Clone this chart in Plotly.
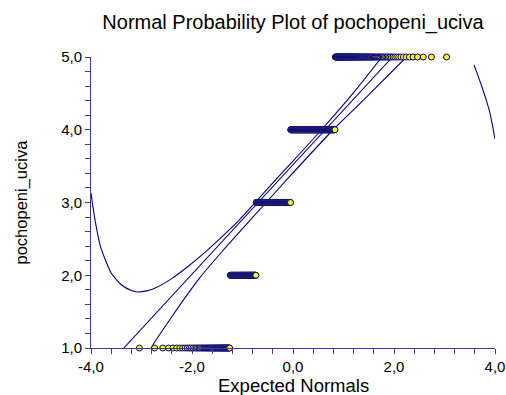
from statistics import NormalDist
import plotly.graph_objects as go

# ---- data ----
categories = [1, 2, 3, 4, 5]            # pochopeni_uciva values
counts = [56, 67, 132, 168, 107]         # observations per value

# fitted reference line (visible segment)
fit_x = [-3.35, 1.97]
fit_y = [1.00, 5.00]

# upper confidence band
upper_x = [-4.00, -3.93, -3.81, -3.60, -3.40, -3.20, -3.07, -2.90, -2.74,
           -2.41, -2.08, -1.75, -1.42, -1.09, -0.76, -0.36, 0.00, 0.565, 1.20, 1.76]
upper_y = [3.13, 2.80, 2.39, 2.03, 1.87, 1.79, 1.77, 1.785, 1.82,
           1.95, 2.12, 2.31, 2.52, 2.74, 2.99, 3.30, 3.57, 4.00, 4.51, 5.00]

# lower confidence band (None = hidden part above the plot)
lower_x = [-3.00, -2.81, -2.41, -1.84, -1.40, -0.70, -0.128, 0.795, 1.40, 2.25, 2.40,
           None, 3.585, 3.67, 3.76, 3.83, 3.90, 3.95, 4.00]
lower_y = [0.72, 1.00, 1.42, 1.97, 2.33, 2.87, 3.31, 4.00, 4.41, 5.00, 5.09,
           None, 4.89, 4.73, 4.55, 4.40, 4.23, 4.06, 3.87]

# axis ticks: labelled values and the step of the small ticks
x_labels = {-4: "-4,0", -2: "-2,0", 0: "0,0", 2: "2,0", 4: "4,0"}
y_labels = {1: "1,0", 2: "2,0", 3: "3,0", 4: "4,0", 5: "5,0"}
x_tick_step = 0.4
y_tick_step = 0.2


def tick_arrays(lo, hi, step, labels):
    k = round((hi - lo) / step)
    vals = [round(lo + i * step, 6) for i in range(k + 1)]
    text = [labels.get(round(v), "") if abs(v - round(v)) < 1e-6 else "" for v in vals]
    return vals, text


x_tickvals, x_ticktext = tick_arrays(-4, 4, x_tick_step, x_labels)
y_tickvals, y_ticktext = tick_arrays(1, 5, y_tick_step, y_labels)

# ---- expected normals (Blom scores) from the sorted observations ----
obs = []
for v, c in zip(categories, counts):
    obs += [v] * c
n = len(obs)
nd = NormalDist()
exp_norm = [nd.inv_cdf((i + 1 - 0.375) / (n + 0.25)) for i in range(n)]

NAVY = "#000080"
AXIS = "#3A3AA0"
FONT = "Liberation Sans, Arial, sans-serif"

fig = go.Figure()
line_style = dict(color=NAVY, width=1.1)
curve_style = dict(color=NAVY, width=1.1, shape="spline", smoothing=0.6)
fig.add_trace(go.Scatter(x=upper_x, y=upper_y, mode="lines", line=curve_style,
                         connectgaps=False, hoverinfo="skip"))
fig.add_trace(go.Scatter(x=fit_x, y=fit_y, mode="lines", line=line_style, hoverinfo="skip"))
fig.add_trace(go.Scatter(x=lower_x, y=lower_y, mode="lines", line=curve_style,
                         connectgaps=False, hoverinfo="skip"))
fig.add_trace(go.Scatter(x=exp_norm, y=obs, mode="markers", cliponaxis=False,
                         marker=dict(size=6, color="#FFFF00",
                                     line=dict(color=NAVY, width=1))))

tick_common = dict(ticks="outside", ticklen=5, tickwidth=1, tickcolor=AXIS,
                   showline=True, linecolor=AXIS, linewidth=1,
                   showgrid=False, zeroline=False, tickmode="array",
                   automargin=False,
                   tickfont=dict(family=FONT, size=15, color="black"))

fig.update_layout(
    width=506, height=395,
    margin=dict(l=91, r=11, t=57, b=47),
    paper_bgcolor="white", plot_bgcolor="white",
    showlegend=False,
    font=dict(family=FONT, color="black"),
    title=dict(text="Normal Probability Plot of pochopeni_uciva",
               x=0.5, xref="paper", xanchor="center",
               y=1 - 22 / 395, yref="container", yanchor="middle",
               font=dict(family=FONT, size=20, color="black")),
    xaxis=dict(range=[-4, 4], tickvals=x_tickvals, ticktext=x_ticktext, **tick_common),
    yaxis=dict(range=[1, 5], tickvals=y_tickvals, ticktext=y_ticktext, **tick_common),
    annotations=[
        dict(text="Expected Normals", xref="paper", yref="paper", x=0.5, y=0,
             xanchor="center", yanchor="middle", yshift=-37, showarrow=False,
             font=dict(family=FONT, size=18.5, color="black")),
        dict(text="pochopeni_uciva", xref="paper", yref="paper", x=0, y=0.5,
             xanchor="center", yanchor="middle", xshift=-70, textangle=-90,
             showarrow=False, font=dict(family=FONT, size=16.5, color="black")),
    ],
)

fig.write_html("out.html")
